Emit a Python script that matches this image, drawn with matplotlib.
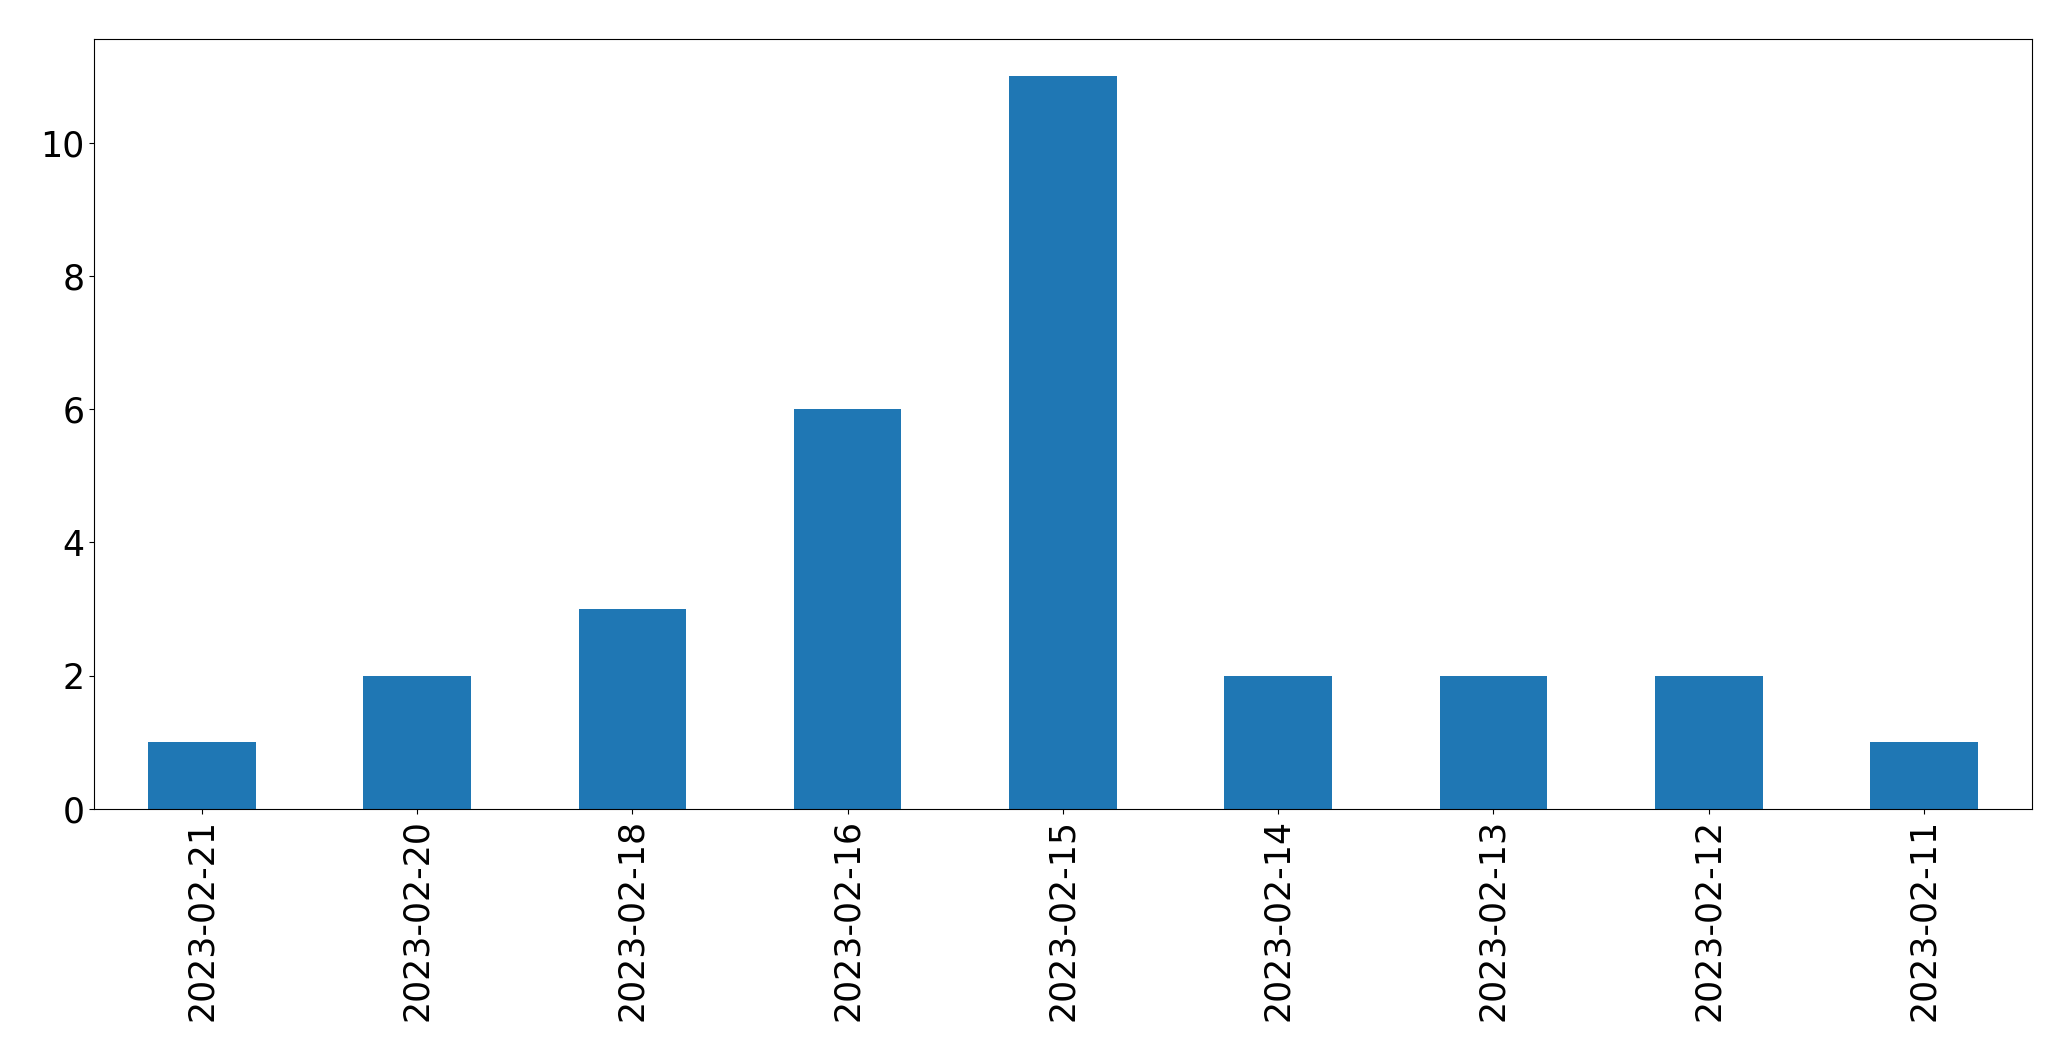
import matplotlib
matplotlib.use('Agg')
import matplotlib.pyplot as plt
import pandas as pd

dates = ['2023-02-21', '2023-02-20', '2023-02-18', '2023-02-16', '2023-02-15',
         '2023-02-14', '2023-02-13', '2023-02-12', '2023-02-11']
counts = [1, 2, 3, 6, 11, 2, 2, 2, 1]

s = pd.Series(counts, index=dates)

fig = plt.figure(figsize=(20.71, 10.61), dpi=100)
ax = fig.add_axes([0.0455, 0.2375, 0.9355, 0.7255])
s.plot(kind='bar', ax=ax, fontsize=25)
plt.savefig('out.png', dpi=100)
